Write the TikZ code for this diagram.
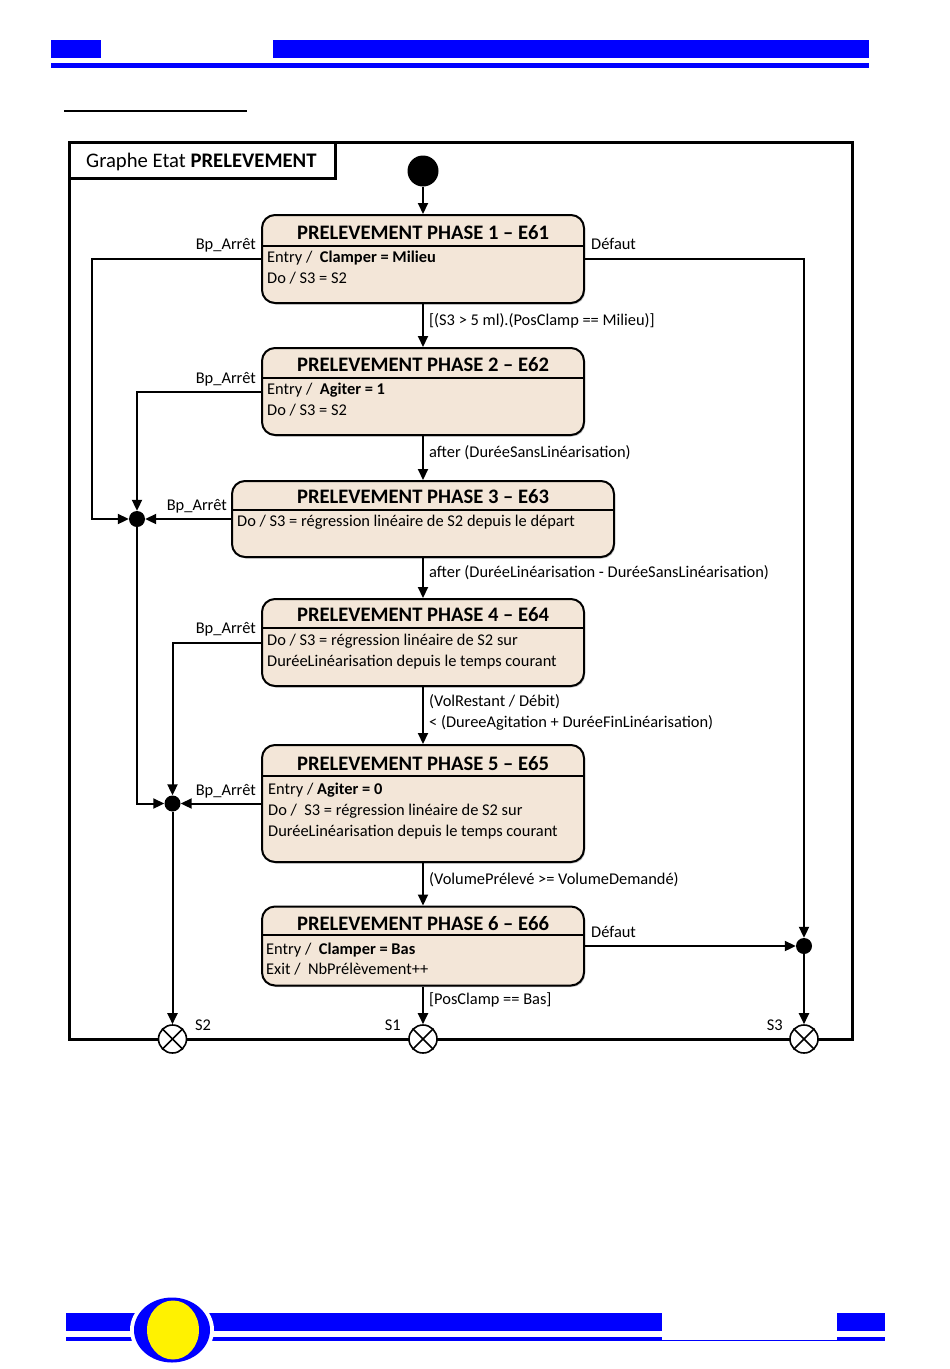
\documentclass[tikz,border=0pt]{standalone}
\usepackage{fontspec}
\setmainfont{Carlito}
\usetikzlibrary{arrows.meta,shadows}
\definecolor{stfill}{RGB}{243,230,216}
\definecolor{hblue}{RGB}{0,0,255}
\begin{document}
\begin{tikzpicture}[x=1pt,y=-1pt,
  statebox/.style={draw,line width=2pt,rounded corners=13pt,fill=stfill,inner sep=0pt,
     drop shadow={shadow xshift=1.2pt,shadow yshift=-1.5pt,opacity=0.45}},
  ttl/.style={font=\fontsize{20.6}{24}\selectfont\bfseries,inner sep=0pt,anchor=base},
  txt/.style={font=\fontsize{16.4}{19}\selectfont,inner sep=0pt,anchor=base west},
  lblr/.style={font=\fontsize{16.4}{19}\selectfont,inner sep=0pt,anchor=base east},
  conn/.style={line width=2pt,-{Triangle[length=11pt,width=10pt]}},
  junc/.style={circle,fill=black,inner sep=0pt,minimum size=16pt},
  exitpt/.style={circle,draw,line width=1.6pt,fill=white,inner sep=0pt,minimum size=28pt},
  sep/.style={line width=2pt}]
\useasboundingbox (0,0) rectangle (950,1369);
% header
\fill[hblue] (51,40) rectangle (101,58);
\fill[hblue] (273,40) rectangle (869,58);
\fill[hblue] (51,63) rectangle (869,68);
\draw[line width=2pt] (64,111) -- (247,111);
% footer
\fill[hblue] (66,1313) rectangle (662,1331);
\fill[hblue] (837,1313) rectangle (885,1331);
\fill[hblue] (66,1337) rectangle (662,1341);
\fill[hblue] (662,1339.5) rectangle (837,1341);
\fill[hblue] (837,1337) rectangle (885,1341);
\fill[white] (172,1330) ellipse [x radius=42, y radius=36];
\fill[hblue] (172,1330) ellipse [x radius=38, y radius=32.5];
\fill[yellow] (173,1330) ellipse [x radius=26, y radius=29.5];
% frame
\draw[line width=3pt] (69,142) rectangle (852,1039);
\draw[line width=3pt,fill=white] (69,142) rectangle (335,178);
\node[font=\fontsize{20.7}{24}\selectfont,inner sep=0pt,anchor=base west] (gtitle) at (86,167) {Graphe Etat \textbf{PRELEVEMENT}};
% initial
\node[circle,fill=black,inner sep=0pt,minimum size=31pt] (init) at (423,171) {};
% states
\node[statebox,minimum width=322pt,minimum height=88pt] (b1) at (423,259) {};
\node[statebox,minimum width=322pt,minimum height=87pt] (b2) at (423,391.5) {};
\node[statebox,minimum width=382pt,minimum height=76pt] (b3) at (423,519) {};
\node[statebox,minimum width=322pt,minimum height=87pt] (b4) at (423,642.5) {};
\node[statebox,minimum width=322pt,minimum height=117pt] (b5) at (423,803.5) {};
\node[statebox,minimum width=322pt,minimum height=79pt] (b6) at (423,946) {};
\draw[sep] (b1.west |- 0,246) -- (b1.east |- 0,246);
\draw[sep] (b2.west |- 0,378) -- (b2.east |- 0,378);
\draw[sep] (b3.west |- 0,510) -- (b3.east |- 0,510);
\draw[sep] (b4.west |- 0,628) -- (b4.east |- 0,628);
\draw[sep] (b5.west |- 0,776) -- (b5.east |- 0,776);
\draw[sep] (b6.west |- 0,935) -- (b6.east |- 0,935);
% state texts
\node[ttl] (t1) at (423,239) {PRELEVEMENT PHASE 1 – E61};
\node[txt] (t1a) at (267,262) {Entry /\ \ \textbf{Clamper = Milieu}};
\node[txt] (t1b) at (267,283) {Do / S3 = S2};
\node[ttl] (t2) at (423,371) {PRELEVEMENT PHASE 2 – E62};
\node[txt] (t2a) at (267,394) {Entry /\ \ \textbf{Agiter = 1}};
\node[txt] (t2b) at (267,415) {Do / S3 = S2};
\node[ttl] (t3) at (423,503) {PRELEVEMENT PHASE 3 – E63};
\node[txt] (t3a) at (237,526) {Do / S3 = régression linéaire de S2 depuis le départ};
\node[ttl] (t4) at (423,621) {PRELEVEMENT PHASE 4 – E64};
\node[txt] (t4a) at (267,645) {Do / S3 = régression linéaire de S2 sur};
\node[txt] (t4b) at (267,666) {DuréeLinéarisation depuis le temps courant};
\node[ttl] (t5) at (423,770) {PRELEVEMENT PHASE 5 – E65};
\node[txt] (t5a) at (268,794) {Entry / \textbf{Agiter = 0}};
\node[txt] (t5b) at (268,815) {Do /\ \ S3 = régression linéaire de S2 sur};
\node[txt] (t5c) at (268,836) {DuréeLinéarisation depuis le temps courant};
\node[ttl] (t6) at (423,930) {PRELEVEMENT PHASE 6 – E66};
\node[txt] (t6a) at (266,954) {Entry /\ \ \textbf{Clamper = Bas}};
\node[txt] (t6b) at (266,974) {Exit /\ \ NbPrélèvement++};
% junctions and exits
\node[junc] (j1) at (137,519) {};
\node[junc] (j2) at (172.5,803.5) {};
\node[junc] (j3) at (804,946) {};
\node[exitpt] (s2) at (172.5,1039) {};
\node[exitpt] (s1) at (423,1039) {};
\node[exitpt] (s3) at (804,1039) {};
\foreach \s in {s1,s2,s3}{
  \draw[line width=1.6pt] (\s.north east) -- (\s.south west);
  \draw[line width=1.6pt] (\s.north west) -- (\s.south east);
}
\coordinate (c1) at (92,519);
% connectors
\draw[conn] (init) -- (b1);
\draw[conn] (b1) -- (b2);
\draw[conn] (b2) -- (b3);
\draw[conn] (b3) -- (b4);
\draw[conn] (b4) -- (b5);
\draw[conn] (b5) -- (b6);
\draw[conn] (b6) -- (s1);
\draw[conn] (b1.west) -| (c1) -- (j1);
\draw[conn] (b2.west) -| (j1);
\draw[conn] (b3.west) -- (j1);
\draw[conn] (j1) |- (j2);
\draw[conn] (b4.west) -| (j2);
\draw[conn] (b5.west) -- (j2);
\draw[conn] (j2) -- (s2);
\draw[conn] (b1.east) -| (j3);
\draw[conn] (b6.east) -- (j3);
\draw[conn] (j3) -- (s3);
% labels
\node[txt] (l12) at (429,325) {[(S3 > 5 ml).(PosClamp == Milieu)]};
\node[txt] (l23) at (429,457) {after (DuréeSansLinéarisation)};
\node[txt] (l34) at (429,577) {after (DuréeLinéarisation - DuréeSansLinéarisation)};
\node[txt] (l45a) at (429,706) {(VolRestant / Débit)};
\node[txt] (l45b) at (429,727) {< (DureeAgitation + DuréeFinLinéarisation)};
\node[txt] (l56) at (429,884) {(VolumePrélevé >= VolumeDemandé)};
\node[txt] (l6s) at (429,1004) {[PosClamp == Bas]};
\node[lblr] (bp1) at (256,249) {Bp\_Arrêt};
\node[lblr] (bp2) at (256,383) {Bp\_Arrêt};
\node[lblr] (bp3) at (227,510) {Bp\_Arrêt};
\node[lblr] (bp4) at (256,633) {Bp\_Arrêt};
\node[lblr] (bp5) at (256,795) {Bp\_Arrêt};
\node[txt] (df1) at (591,249) {Défaut};
\node[txt] (df6) at (591,937) {Défaut};
\node[txt] (ls2) at (195,1030) {S2};
\node[lblr] (ls1) at (401,1030) {S1};
\node[lblr] (ls3) at (783,1030) {S3};
\end{tikzpicture}
\end{document}
